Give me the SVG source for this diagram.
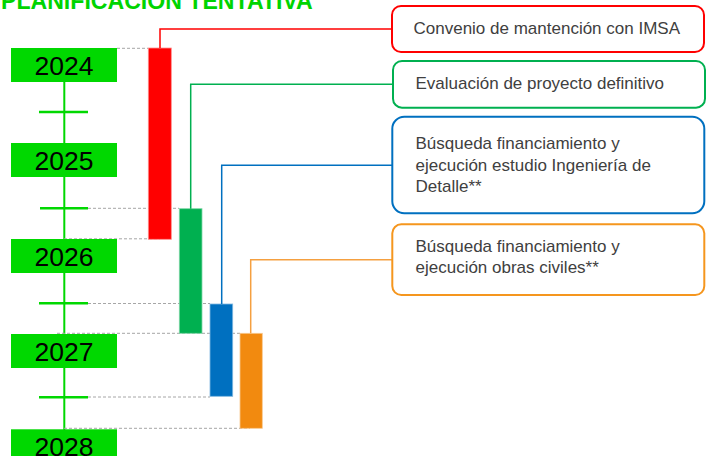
<svg xmlns="http://www.w3.org/2000/svg" width="710" height="456" viewBox="0 0 710 456">
<style>
.title{font-family:"Liberation Sans",Arial,sans-serif;font-weight:bold;font-size:23.1px;fill:#00d400}
.yr{font-family:"Liberation Sans",Arial,sans-serif;font-size:26.5px;fill:#000;text-anchor:middle}
.ybox{fill:#00d800}
.tick{stroke:#00d800;stroke-width:2.5}
.dash{stroke:#a6a6a6;stroke-width:1;stroke-dasharray:3 2;fill:none}
.lbl{font-family:"Liberation Sans",Arial,sans-serif;font-size:17px;fill:#404040}
.box{fill:#fff;stroke-width:2}
.conn{fill:none;stroke-width:1.5}
</style>
<rect width="710" height="456" fill="#fff"/>
<text class="title" x="1" y="9">PLANIFICACION TENTATIVA</text>

<g id="timeline">
<line x1="64.3" y1="48" x2="64.3" y2="456" stroke="#00d800" stroke-width="2"/>
<line class="tick" x1="39" y1="112" x2="88" y2="112"/>
<line class="tick" x1="40" y1="208.3" x2="88" y2="208.3"/>
<line class="tick" x1="39" y1="303.3" x2="88" y2="303.3"/>
<line class="tick" x1="39" y1="397.3" x2="88" y2="397.3"/>
</g>

<g id="guides">
<line class="dash" x1="117" y1="48.3" x2="148" y2="48.3"/>
<line class="dash" x1="88" y1="208.3" x2="179" y2="208.3"/>
<line class="dash" x1="64" y1="238.8" x2="160" y2="238.8"/>
<line class="dash" x1="88" y1="303.5" x2="210" y2="303.5"/>
<line class="dash" x1="57" y1="333.3" x2="240" y2="333.3"/>
<line class="dash" x1="88" y1="397" x2="210" y2="397"/>
<line class="dash" x1="64" y1="428.3" x2="250" y2="428.3"/>
</g>

<g id="y2024"><rect class="ybox" x="11" y="48" width="106" height="34"/><text class="yr" x="64" y="75">2024</text></g>
<g id="y2025"><rect class="ybox" x="11" y="143" width="106" height="34"/><text class="yr" x="64" y="170">2025</text></g>
<g id="y2026"><rect class="ybox" x="11" y="239" width="106" height="34"/><text class="yr" x="64" y="266">2026</text></g>
<g id="y2027"><rect class="ybox" x="11" y="334" width="106" height="34"/><text class="yr" x="64" y="361">2027</text></g>
<g id="y2028"><rect class="ybox" x="11" y="429.3" width="106" height="34"/><text class="yr" x="64" y="456.3">2028</text></g>

<g id="bar-red"><rect x="148.3" y="48" width="23" height="191.3" fill="#ff0000" stroke="#ff9090" stroke-width="0.8"/></g>
<g id="bar-green"><rect x="179.3" y="208.7" width="22.7" height="124.6" fill="#00b050" stroke="#80d8a8" stroke-width="0.8"/></g>
<g id="bar-blue"><rect x="210" y="304" width="22.7" height="92.3" fill="#0070c0" stroke="#80b8e0" stroke-width="0.8"/></g>
<g id="bar-orange"><rect x="240" y="333.3" width="22.3" height="95" fill="#f28a0f" stroke="#f8c890" stroke-width="0.8"/></g>

<g id="connectors">
<polyline class="conn" stroke="#ff0000" points="160,48 160,29 392,29"/>
<polyline class="conn" stroke="#00b050" points="190.7,208.7 190.7,84.3 393,84.3"/>
<polyline class="conn" stroke="#0070c0" points="221.7,304 221.7,165.3 392.3,165.3"/>
<polyline class="conn" stroke="#f5a040" points="250.7,333.3 250.7,259.8 392.3,259.8"/>
</g>

<g id="n1"><rect class="box" x="392" y="6" width="312" height="46" rx="9" stroke="#ff0000"/><text class="lbl" x="413.5" y="33.7">Convenio de mantención con IMSA</text></g>
<g id="n2"><rect class="box" x="393" y="61" width="312" height="46.7" rx="9" stroke="#00b050"/><text class="lbl" x="415.5" y="89.3">Evaluación de proyecto definitivo</text></g>
<g id="n3"><rect class="box" x="392.3" y="116.7" width="312" height="96.6" rx="12" stroke="#0070c0"/><text class="lbl" x="415.5" y="149.3">Búsqueda financiamiento y</text><text class="lbl" x="415.5" y="170.8">ejecución estudio Ingeniería de</text><text class="lbl" x="415.5" y="192.3">Detalle**</text></g>
<g id="n4"><rect class="box" x="392.3" y="224.3" width="312" height="70.7" rx="9" stroke="#f5961e"/><text class="lbl" x="415.5" y="251.7">Búsqueda financiamiento y</text><text class="lbl" x="415.5" y="273.3">ejecución obras civiles**</text></g>
</svg>
